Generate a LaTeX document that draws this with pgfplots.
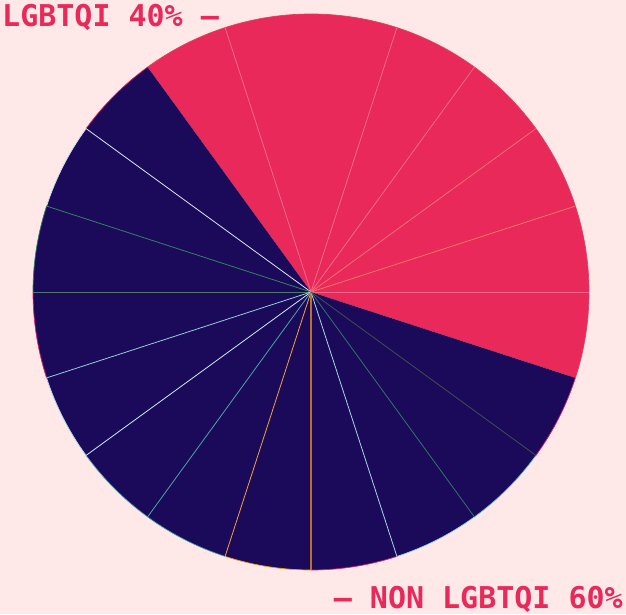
\documentclass[border=0pt]{standalone}
\usepackage{pgfplots}
\pgfplotsset{compat=1.18}
\usepackage{pgfplotstable}
\usepackage{fontspec}
\setmonofont{DejaVu Sans Mono}
\definecolor{bg}{HTML}{FFE8E8}
\definecolor{pieR}{HTML}{E8295A}
\definecolor{pieN}{HTML}{1B0A5A}
\definecolor{eR1}{HTML}{F0668A}
\definecolor{eR2}{HTML}{F07462}
\definecolor{eR3}{HTML}{F06E72}
\definecolor{eR4}{HTML}{F06A80}
\definecolor{eN144}{HTML}{D8E4F4}
\definecolor{eN162}{HTML}{2E8060}
\definecolor{eN180}{HTML}{4E7A68}
\definecolor{eN198}{HTML}{90CCD4}
\definecolor{eN216}{HTML}{C8ECF4}
\definecolor{eN234}{HTML}{48A4A4}
\definecolor{eN252}{HTML}{F0A030}
\definecolor{eN270}{HTML}{B87030}
\definecolor{eN288}{HTML}{A0D4E0}
\definecolor{eN306}{HTML}{2E7464}
\definecolor{eN324}{HTML}{3E4C4C}
\definecolor{aR}{HTML}{E2405A}
\definecolor{aRed}{HTML}{E0206A}
\definecolor{aC1}{HTML}{C8E4F0}
\definecolor{aC2}{HTML}{A0D8E0}
\definecolor{aT1}{HTML}{58B0B0}
\definecolor{aT2}{HTML}{48A0A0}
\definecolor{aOr}{HTML}{F0A020}
\definecolor{aC3}{HTML}{90D8E0}
\definecolor{aT3}{HTML}{60C0C0}
% slices counter-clockwise from -18 degrees; pct = share of the pie
\pgfplotstableread{
pct fillc edgec lw arcc
5  pieR none  0.8 aR
5  pieR eR1   0.8 aR
5  pieR eR2   0.8 aR
5  pieR eR3   0.8 aR
5  pieR eR4   0.8 aR
10 pieR eR4   0.8 aR
5  pieR eR1   0.8 aR
5  pieN none  0.8 aRed
5  pieN eN144 0.8 aC1
5  pieN eN162 0.8 eN162
5  pieN eN180 0.8 aRed
5  pieN eN198 0.8 aC2
5  pieN eN216 0.8 aT1
5  pieN eN234 0.8 aT2
5  pieN eN252 0.8 aOr
5  pieN eN270 1.4 aRed
5  pieN eN288 0.8 aC3
5  pieN eN306 0.8 aT3
5  pieN eN324 0.8 aRed
}\slices
\begin{document}
\begin{tikzpicture}
\fill[bg] (0,0) rectangle (626pt,614pt);
\useasboundingbox (0,0) rectangle (626pt,614pt);
\begin{axis}[at={(311pt,322pt)},anchor=center,x=278pt,y=278pt,
  xmin=-1,xmax=1,ymin=-1,ymax=1,hide axis,clip=false]
% pass 1: fills
\def\cum{-18}
\pgfplotsforeachungrouped \i in {0,...,18}{%
  \pgfplotstablegetelem{\i}{pct}\of\slices \let\p\pgfplotsretval
  \pgfplotstablegetelem{\i}{fillc}\of\slices \let\fc\pgfplotsretval
  \pgfmathsetmacro\a{\cum}%
  \pgfmathsetmacro\b{\cum+3.6*\p}%
  \pgfmathsetmacro\xa{cos(\a)}%
  \pgfmathsetmacro\ya{sin(\a)}%
  \edef\cmd{\noexpand\fill[\fc] (axis cs:0,0) -- (axis cs:\xa,\ya) arc[start angle=\a, end angle=\b, radius=278pt] -- cycle;}%
  \cmd
  \let\cum\b
}
% pass 2: arcs
\def\cum{-18}
\pgfplotsforeachungrouped \i in {0,...,18}{%
  \pgfplotstablegetelem{\i}{pct}\of\slices \let\p\pgfplotsretval
  \pgfplotstablegetelem{\i}{arcc}\of\slices \let\ac\pgfplotsretval
  \pgfmathsetmacro\a{\cum}%
  \pgfmathsetmacro\b{\cum+3.6*\p}%
  \pgfmathsetmacro\xa{cos(\a)}%
  \pgfmathsetmacro\ya{sin(\a)}%
  \edef\cmd{\noexpand\draw[draw=\ac, line width=0.7pt] (axis cs:\xa,\ya) arc[start angle=\a, end angle=\b, radius=278pt];}%
  \cmd
  \let\cum\b
}
% pass 3: radial boundaries
\def\cum{-18}
\pgfplotsforeachungrouped \i in {0,...,18}{%
  \pgfplotstablegetelem{\i}{pct}\of\slices \let\p\pgfplotsretval
  \pgfplotstablegetelem{\i}{edgec}\of\slices \let\ec\pgfplotsretval
  \pgfplotstablegetelem{\i}{lw}\of\slices \let\w\pgfplotsretval
  \pgfmathsetmacro\a{\cum}%
  \pgfmathsetmacro\b{\cum+3.6*\p}%
  \pgfmathsetmacro\xa{cos(\a)}%
  \pgfmathsetmacro\ya{sin(\a)}%
  \edef\cmd{\noexpand\draw[draw=\ec, line width=\w pt] (axis cs:0,0) -- (axis cs:\xa,\ya);}%
  \cmd
  \let\cum\b
}
\end{axis}
\node[anchor=base west, inner sep=0pt, text=pieR,
  font=\ttfamily\bfseries\fontsize{30}{30}\selectfont] at (2pt,587pt) {LGBTQI 40\% –};
\node[anchor=base east, inner sep=0pt, text=pieR,
  font=\ttfamily\bfseries\fontsize{30}{30}\selectfont] at (623pt,6pt) {– NON LGBTQI 60\%};
\end{tikzpicture}
\end{document}
